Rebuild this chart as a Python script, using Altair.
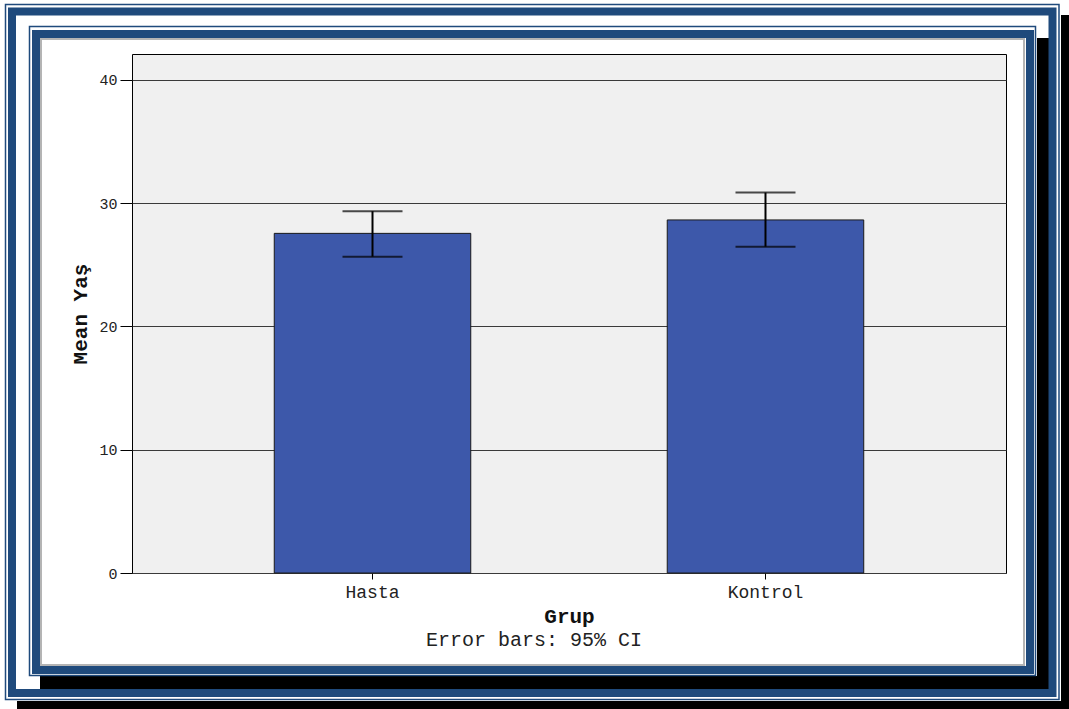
import altair as alt
import pandas as pd

# Group means of age with 95% confidence limits
groups = ["Hasta", "Kontrol"]
means = [27.55, 28.64]
ci_low = [25.66, 26.47]
ci_high = [29.35, 30.86]
y_ticks = [0, 10, 20, 30, 40]
footnote = "Error bars: 95% CI"

W, H = 874, 519          # plot area
LEFT, TOP = 132, 54      # offset of the plot area on the page
FONT = "Liberation Mono"
BLUE = "#1F4A7C"
BAR = "#3D58AA"

df = pd.DataFrame({"Grup": groups, "mean": means, "lo": ci_low, "hi": ci_high})
one = alt.Data(values=[{"k": 0}])


def box(x0, y0, x1, y1, **mark):
    """Decorative rectangle given in page pixels."""
    return alt.Chart(one).mark_rect(**mark).encode(
        x=alt.value(x0 - LEFT), x2=alt.value(x1 - LEFT),
        y=alt.value(y0 - TOP), y2=alt.value(y1 - TOP),
    )


def outline(x0, y0, x1, y1, color, width):
    return box(x0, y0, x1, y1, fillOpacity=0, stroke=color, strokeWidth=width)


frame = [
    # drop shadows
    box(1061, 15, 1075, 715, color="#000000"),
    box(17, 701, 1075, 715, color="#000000"),
    box(1037, 38, 1049, 689, color="#000000"),
    box(40, 676, 1049, 689, color="#000000"),
    # outer double border
    outline(5.5, 4.5, 1059, 699.5, BLUE, 1.5),
    outline(12, 11.5, 1052.5, 693, BLUE, 8),
    # inner double border
    outline(29.5, 26.5, 1035.5, 675.5, BLUE, 1.5),
    outline(36, 34, 1030, 670, BLUE, 8),
    # bevel of the inner panel
    outline(41, 39, 1024, 665, "#b4b4b4", 2),
]

x_enc = alt.X(
    "Grup:N",
    sort=groups,
    scale=alt.Scale(paddingInner=0.5, paddingOuter=0.362),
    axis=alt.Axis(
        title="Grup", labelAngle=0, tickSize=6, tickColor="#000", domain=False,
        grid=False, labelFontSize=18, labelColor="#222", labelPadding=4,
        titleFontSize=21, titleFontWeight="bold", titleColor="#111", titlePadding=4,
    ),
)
y_scale = alt.Scale(domain=[0, 42.1], nice=False)
y_axis = alt.Axis(
    title="Mean Yaş", values=y_ticks, format="d", grid=True, gridColor="#3a3a3a",
    gridWidth=1, domain=False, tickSize=12, tickColor="#000", labelFontSize=15,
    labelColor="#222", labelPadding=3, titleFontSize=21, titleFontWeight="bold",
    titleColor="#111", titlePadding=8,
)

base = alt.Chart(df)
bars = base.mark_bar(color=BAR, stroke="#1a1a1a", strokeWidth=1).encode(
    x=x_enc, y=alt.Y("mean:Q", scale=y_scale, axis=y_axis)
)
whisker = base.mark_rule(color="#000", strokeWidth=2).encode(
    x=x_enc, y=alt.Y("lo:Q", scale=y_scale, axis=y_axis), y2="hi:Q"
)
cap_lo = base.mark_tick(color="#000", size=60, thickness=2).encode(
    x=x_enc, y=alt.Y("lo:Q", scale=y_scale, axis=y_axis)
)
cap_hi = base.mark_tick(color="#000", size=60, thickness=2).encode(
    x=x_enc, y=alt.Y("hi:Q", scale=y_scale, axis=y_axis)
)
note = alt.Chart(alt.Data(values=[{"t": footnote}])).mark_text(
    font=FONT, fontSize=20, color="#222", align="center", baseline="middle"
).encode(text="t:N", x=alt.value(534 - LEFT), y=alt.value(640 - TOP))

chart = alt.layer(*frame, bars, whisker, cap_lo, cap_hi, note).properties(
    width=W, height=H,
    autosize=alt.AutoSizeParams(type="none"),
    padding={"left": LEFT, "top": TOP, "right": 1069 - LEFT - W, "bottom": 709 - TOP - H},
    background="#ffffff",
).configure_view(
    fill="#f0f0f0", stroke="#000000", strokeWidth=1
).configure_axis(
    labelFont=FONT, titleFont=FONT
)

chart.save("out.html", embed_options={"renderer": "svg", "actions": False})
